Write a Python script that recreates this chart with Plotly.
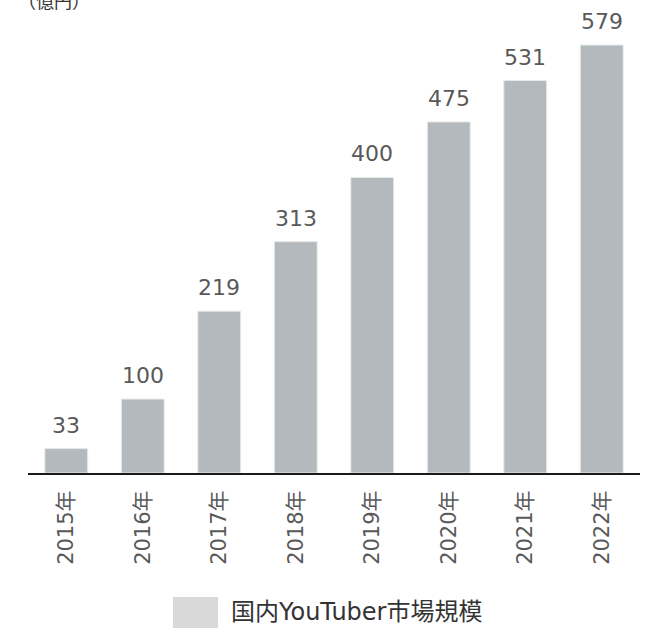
import plotly.graph_objects as go

years = ["2015年", "2016年", "2017年", "2018年", "2019年", "2020年", "2021年", "2022年"]
values = [33, 100, 219, 313, 400, 475, 531, 579]
series_name = "国内YouTuber市場規模"
unit_label = "（億円）"

W, H = 649, 628
ml, mr, mt, mb = 28, 9, 0, 155
pw = W - ml - mr
ph = H - mt - mb

def px_x(x):
    return (x - ml) / pw

def px_y(y):
    return (H - mb - y) / ph

FONT = "DejaVu Sans, Noto Sans CJK JP, sans-serif"

fig = go.Figure()
fig.add_trace(go.Bar(
    x=years, y=values, name=series_name,
    marker=dict(color="#b3b9bc", line=dict(color="#e6e8e9", width=1)),
    showlegend=False, hoverinfo="skip",
))

for yr, v in zip(years, values):
    fig.add_annotation(x=yr, y=v, text=str(v), showarrow=False,
                       yanchor="bottom", yshift=9,
                       font=dict(family=FONT, size=22, color="#595959"))

fig.add_annotation(xref="paper", yref="paper", x=px_x(16), y=1, xanchor="left",
                   yanchor="middle", yshift=0, text=unit_label, showarrow=False,
                   font=dict(family="Noto Sans CJK JP, sans-serif", size=18, color="#333333"))

# manual legend
fig.add_shape(type="rect", xref="paper", yref="paper",
              x0=px_x(173), x1=px_x(218), y0=px_y(597), y1=px_y(630),
              fillcolor="#d9d9d9", line=dict(width=0))
fig.add_annotation(xref="paper", yref="paper", x=px_x(229), y=px_y(612),
                   xanchor="left", yanchor="middle", text=series_name, showarrow=False,
                   font=dict(family=FONT, size=24, color="#333333"))

fig.update_layout(
    width=W, height=H,
    margin=dict(l=ml, r=mr, t=mt, b=mb),
    plot_bgcolor="white", paper_bgcolor="white",
    bargap=0.44,
    xaxis=dict(showline=True, linecolor="#1a1a1a", linewidth=2, tickangle=-90,
               tickfont=dict(family=FONT, size=21, color="#595959"),
               ticks="", ticklen=0, ticklabelstandoff=7,
               showgrid=False, fixedrange=True),
    yaxis=dict(visible=False, range=[0, 640], showgrid=False, fixedrange=True),
)

fig.write_html("out.html", config={"displayModeBar": False},
               post_script="document.body.style.margin='0';")
